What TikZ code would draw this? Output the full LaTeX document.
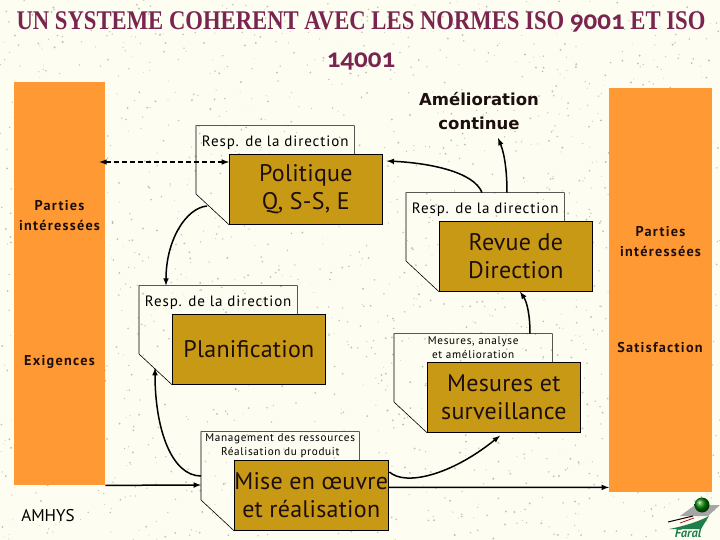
\documentclass[tikz,border=0pt]{standalone}
\usepackage{fontspec}
\usetikzlibrary{calc}
\setsansfont{PT Sans}
\newfontfamily\goldfont[LetterSpace=1]{PT Sans}
\newfontfamily\spacedfont[LetterSpace=6]{PT Sans}
\newfontfamily\barfont[LetterSpace=9]{PT Sans}
\newfontfamily\headfont{DejaVu Sans}
\newfontfamily\titlefont[FakeStretch=0.84]{Liberation Serif}
\newfontfamily\oldnumfont[Numbers=OldStyle]{Carlito}
\definecolor{paper}{HTML}{FDFDF1}
\definecolor{speck}{HTML}{8E8E84}
\definecolor{orangebar}{HTML}{FF9933}
\definecolor{goldbox}{HTML}{C89914}
\definecolor{titlered}{HTML}{7A2450}
\definecolor{inktext}{HTML}{1E0F0F}
\definecolor{faralgreen}{HTML}{1F7F4A}
\newcommand{\backplate}[2]{\draw[line width=0.6pt] (#1.south east) -- (#1.north east) -- (#1.north west)
  -- (#1.south west) -- ([yshift=-40pt]#1.south west) -- (#2.south west);}
\newcommand{\resptxt}[1]{\raisebox{-7pt}[0pt][0pt]{#1}}
\newcommand{\oldnum}[1]{{\oldnumfont\bfseries #1}}
\tikzset{
  gold/.style={draw=black,line width=0.7pt,fill=goldbox,text=inktext,minimum width=153pt,minimum height=70pt,
    inner sep=0pt,align=center,anchor=north west,font=\goldfont\fontsize{24}{28}\selectfont},
  resp/.style={minimum width=158pt,minimum height=28pt,inner sep=0pt,align=center,anchor=south west,
    font=\spacedfont\fontsize{15}{15}\selectfont},
  respsmall/.style={resp,font=\spacedfont\fontsize{11.2}{14}\selectfont},
  bar/.style={fill=orangebar,inner sep=0pt,anchor=north west},
  barlabel/.style={text=inktext,align=center,inner sep=0pt,font=\barfont\bfseries\fontsize{14.2}{20}\selectfont},
  flow/.style={-latex,line width=1.5pt},
}
\begin{document}
\begin{tikzpicture}[x=1pt,y=-1pt]
  \useasboundingbox (0,0) rectangle (720,540);
  \fill[paper] (0,0) rectangle (720,540);
  % speckles
  \pgfmathsetseed{41}
  \foreach \i in {1,...,1800}{
    \pgfmathsetmacro{\px}{720*rnd}
    \pgfmathsetmacro{\py}{540*rnd}
    \pgfmathsetmacro{\pr}{0.4+0.7*rnd}
    \fill[speck,opacity=0.55] (\px,\py) circle[radius=\pr pt];
  }

  \node[align=center,inner sep=0pt,text=titlered,font=\titlefont\bfseries\fontsize{27}{38}\selectfont] (title) at (361,41)
    {UN SYSTEME COHERENT AVEC LES NORMES ISO \oldnum{9001} ET ISO\\\oldnum{14001}};

  % side bars
  \node[bar,minimum width=91pt,minimum height=403pt] (leftbar) at (14,82) {};
  \node[bar,minimum width=103pt,minimum height=404pt] (rightbar) at (609,88) {};
  \node[barlabel] (partiesl) at (59.5,216) {Parties\\intéressées};
  \node[barlabel] (exigences) at (59.5,362) {Exigences};
  \node[barlabel] (partiesr) at (660.5,242) {Parties\\intéressées};
  \node[barlabel] (satisfaction) at (660,348) {Satisfaction};
  \node[inner sep=0pt,font=\sffamily\fontsize{17}{17}\selectfont] (amhys) at (48,516) {AMHYS};

  % process boxes
  \node[gold] (politique) at (229,154) {Politique\\Q, S-S, E};
  \node[gold] (revue) at (439,221) {Revue de\\Direction};
  \node[gold] (planif) at (172,314) {Planification};
  \node[gold] (mise) at (234,460) {Mise en œuvre\\et réalisation};
  \node[gold] (mesures) at (427,362) {Mesures et\\surveillance};

  \node[resp] (polresp) at ([xshift=-33pt]politique.north west) {\resptxt{Resp. de la direction}};
  \node[resp] (revresp) at ([xshift=-33pt]revue.north west) {\resptxt{Resp. de la direction}};
  \node[resp] (planresp) at ([xshift=-33pt]planif.north west) {\resptxt{Resp. de la direction}};
  \node[respsmall] (miseresp) at ([xshift=-33pt]mise.north west) {Management des ressources\\Réalisation du produit};
  \node[respsmall] (mesresp) at ([xshift=-33pt]mesures.north west) {Mesures, analyse\\et amélioration};

  \backplate{polresp}{politique}
  \backplate{revresp}{revue}
  \backplate{planresp}{planif}
  \backplate{miseresp}{mise}
  \backplate{mesresp}{mesures}

  \node[align=center,inner sep=0pt,text=inktext,font=\headfont\bfseries\fontsize{16.5}{24}\selectfont] (amelio) at (479,111) {Amélioration\\continue};

  % connectors
  \draw[flow,latex-latex,dash pattern=on 5pt off 3pt] ([shift={(-6pt,-80pt)}]leftbar.north east) -- ([yshift=-8pt]politique.north west);
  \draw[flow] ([shift={(11pt,-52pt)}]polresp.south west) .. controls (186,208) and (166,240) .. ([xshift=27pt]planresp.north west);
  \draw[flow] ([yshift=-16pt]miseresp.south west) .. controls (172,476) and (155,430) .. ([shift={(16pt,-54pt)}]planresp.south west);
  \draw[flow] (leftbar.south east) -- ([yshift=-25pt]miseresp.south west);
  \draw[flow] ([shift={(1pt,-12pt)}]mise.north east) .. controls (405,486) and (450,476) .. ([xshift=73pt,yshift=-3pt]mesures.south west);
  \draw[flow] ([yshift=8pt]mise.east) -- ([yshift=5pt]rightbar.south west);
  \draw[flow] ([xshift=136pt]mesresp.north west) .. controls (530,315) and (527,302) .. ([xshift=81pt]revue.south west);
  \draw[flow] ([xshift=76pt]revresp.north west) .. controls (474,172) and (430,163) .. ([shift={(4pt,-7pt)}]politique.north east);
  \draw[flow] ([xshift=101pt]revresp.north west) .. controls (507,165) and (503,150) .. ([shift={(19pt,-8pt)}]amelio.south);

  % logo
  \fill[black!35] (695,505) -- (720,505) -- (708,516) -- (680,516) -- cycle;
  \shade[ball color=green!50!black] (702,505) circle[radius=7.5pt];
  \fill[faralgreen] (669,529) .. controls (685,526) and (700,521) .. (709,516) -- (701,529) -- cycle;
  \draw[line width=1pt] (668,522) -- (693,516);
  \draw[red!70!black,line width=0.7pt] (680,523) -- (694,518);
  \node[inner sep=0pt,text=faralgreen,font=\sffamily\bfseries\itshape\fontsize{12.5}{12.5}\selectfont] (faral) at (688,533.5) {Faral};
\end{tikzpicture}
\end{document}
